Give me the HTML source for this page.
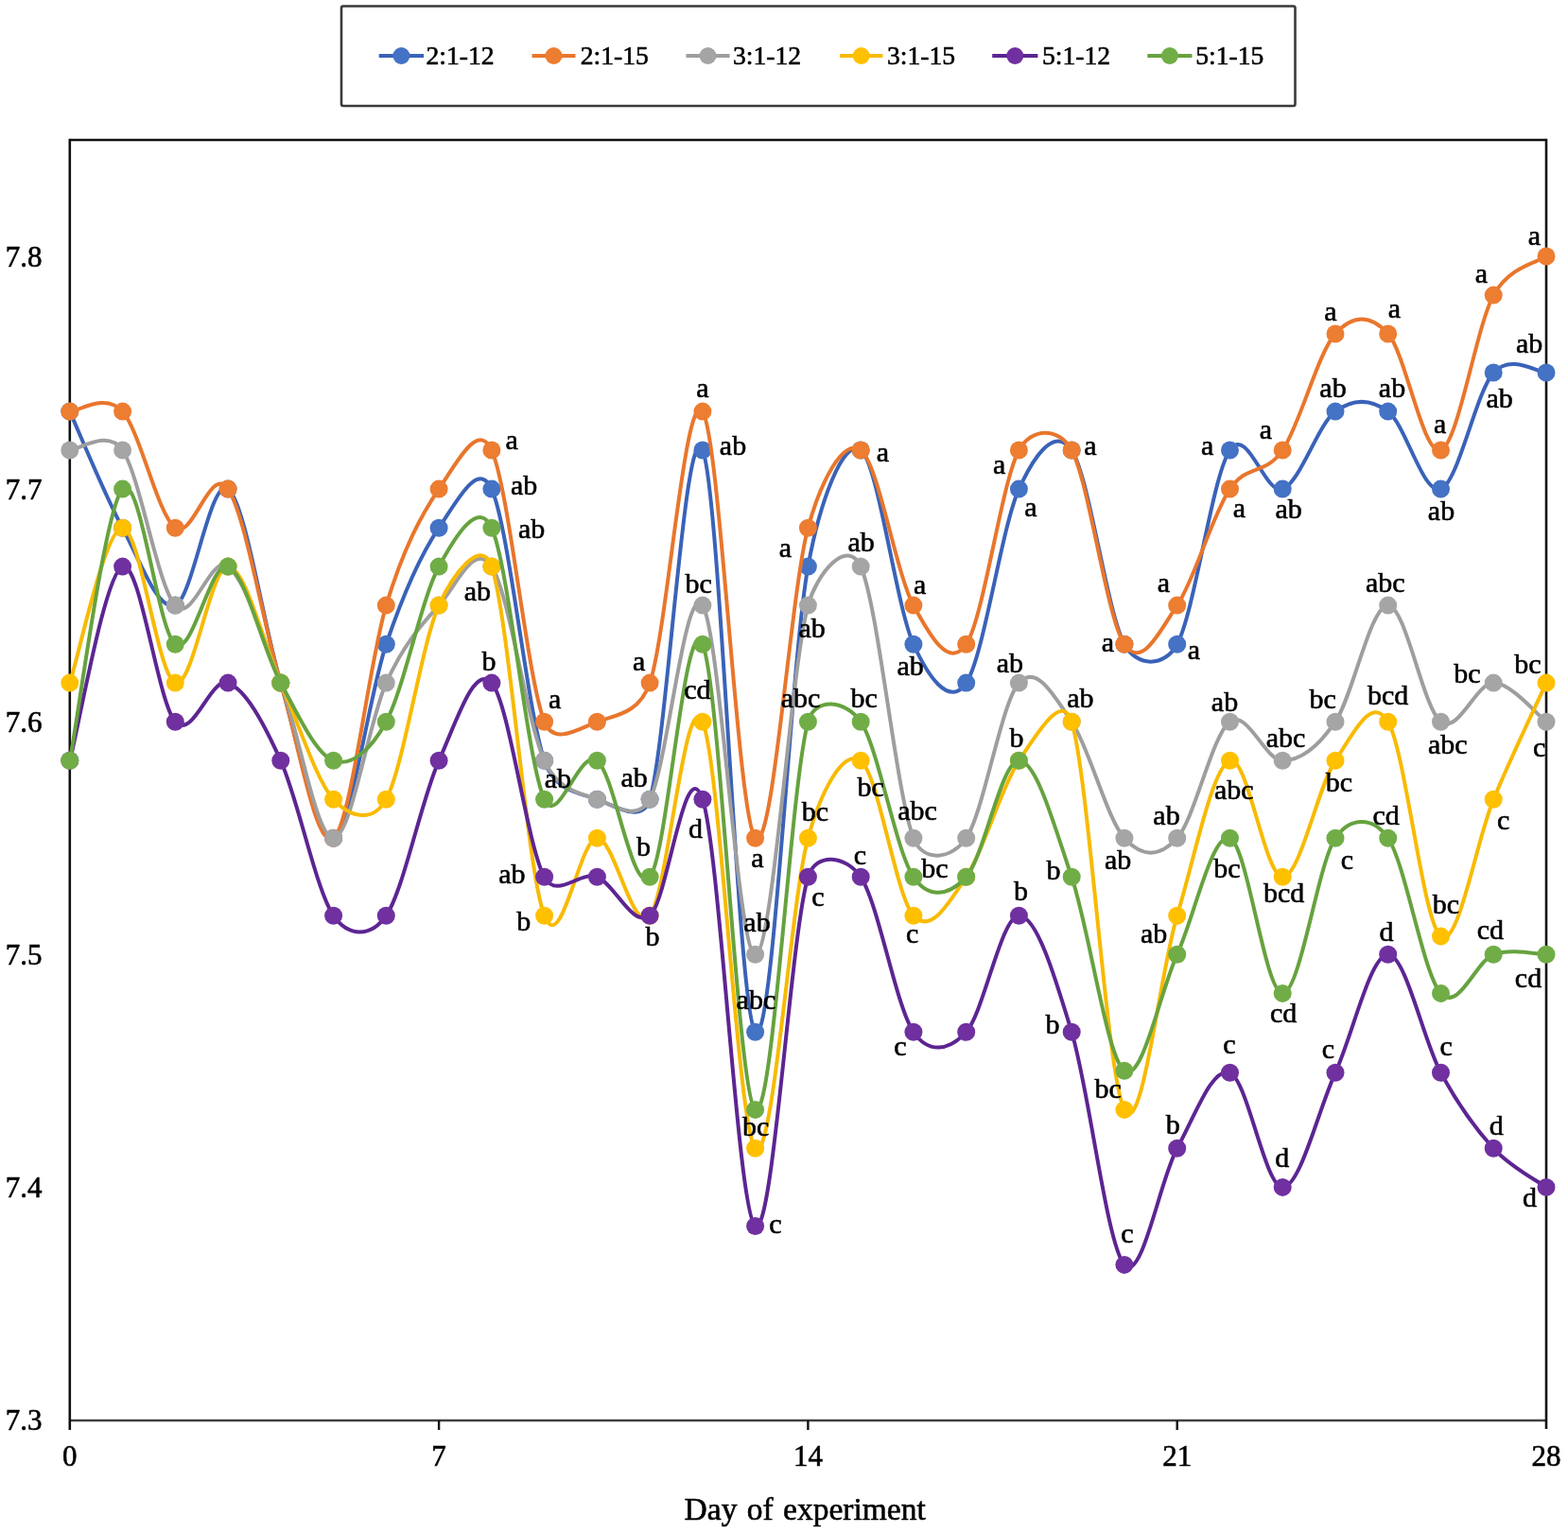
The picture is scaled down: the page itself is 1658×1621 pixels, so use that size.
<!DOCTYPE html>
<html><head><meta charset="utf-8"><title>pH chart</title><style>
html,body{margin:0;padding:0;background:#fff;overflow:hidden;}
svg{display:block;}
text{font-family:"Liberation Serif","Times New Roman",serif;fill:#000;stroke:#000;stroke-width:0.6px;}
</style></head><body>
<svg width="1658" height="1621" viewBox="0 0 1658 1621">
<rect x="0" y="0" width="1658" height="1621" fill="#fff"/>
<rect x="361" y="6.5" width="1008.5" height="105.5" fill="none" stroke="#3a3a3a" stroke-width="2.6" rx="2"/>
<line x1="400.7" y1="59" x2="448.0" y2="59" stroke="#3A62B8" stroke-width="4.0"/>
<circle cx="424.4" cy="59" r="9.0" fill="#4472C4"/>
<text x="450.5" y="67.6" font-size="27.6">2:1-12</text>
<line x1="562.5" y1="59" x2="608.5" y2="59" stroke="#E8762C" stroke-width="4.0"/>
<circle cx="585.5" cy="59" r="9.0" fill="#ED7D31"/>
<text x="613.8" y="67.6" font-size="27.6">2:1-15</text>
<line x1="725.5" y1="59" x2="771.6" y2="59" stroke="#9E9E9E" stroke-width="4.0"/>
<circle cx="748.5" cy="59" r="9.0" fill="#A5A5A5"/>
<text x="775.0" y="67.6" font-size="27.6">3:1-12</text>
<line x1="888.0" y1="59" x2="933.4" y2="59" stroke="#F8BA00" stroke-width="4.0"/>
<circle cx="910.7" cy="59" r="9.0" fill="#FFC000"/>
<text x="938.0" y="67.6" font-size="27.6">3:1-15</text>
<line x1="1049.2" y1="59" x2="1097.4" y2="59" stroke="#5C2592" stroke-width="4.0"/>
<circle cx="1073.3" cy="59" r="9.0" fill="#7030A0"/>
<text x="1102.0" y="67.6" font-size="27.6">5:1-12</text>
<line x1="1213.3" y1="59" x2="1260.5" y2="59" stroke="#66A23F" stroke-width="4.0"/>
<circle cx="1236.9" cy="59" r="9.0" fill="#70AD47"/>
<text x="1264.2" y="67.6" font-size="27.6">5:1-15</text>
<g stroke-linecap="butt">
<line x1="73.8" y1="148" x2="1635" y2="148" stroke="#111" stroke-width="2.6"/>
<line x1="73.8" y1="1502" x2="1635" y2="1502" stroke="#404040" stroke-width="2.6"/>
<line x1="73.8" y1="146.7" x2="73.8" y2="1512" stroke="#111" stroke-width="2.6"/>
<line x1="1635" y1="146.7" x2="1635" y2="1511" stroke="#111" stroke-width="2.6"/>
<line x1="464.1" y1="1502" x2="464.1" y2="1512" stroke="#111" stroke-width="2.4"/>
<line x1="854.4" y1="1502" x2="854.4" y2="1512" stroke="#111" stroke-width="2.4"/>
<line x1="1244.7" y1="1502" x2="1244.7" y2="1512" stroke="#111" stroke-width="2.4"/>
</g>
<text x="44.5" y="1512.1" font-size="31" text-anchor="end">7.3</text>
<text x="44.5" y="1266.0" font-size="31" text-anchor="end">7.4</text>
<text x="44.5" y="1019.9" font-size="31" text-anchor="end">7.5</text>
<text x="44.5" y="773.8" font-size="31" text-anchor="end">7.6</text>
<text x="44.5" y="527.7" font-size="31" text-anchor="end">7.7</text>
<text x="44.5" y="281.6" font-size="31" text-anchor="end">7.8</text>
<text x="73.8" y="1550" font-size="31" text-anchor="middle">0</text>
<text x="464.1" y="1550" font-size="31" text-anchor="middle">7</text>
<text x="854.4" y="1550" font-size="31" text-anchor="middle">14</text>
<text x="1244.7" y="1550" font-size="31" text-anchor="middle">21</text>
<text x="1635.0" y="1550" font-size="31" text-anchor="middle">28</text>
<text x="723.6" y="1607" font-size="33.5" word-spacing="2">Day of experiment</text>
<path d="M73.80,435.15 C83.09,455.66 110.97,524.03 129.56,558.20 C148.14,592.37 166.73,647.00 185.31,640.15 C203.90,633.30 222.49,503.44 241.07,517.10 C259.66,530.76 278.24,660.58 296.83,722.10 C315.41,783.63 334.00,893.06 352.59,886.25 C371.17,879.44 389.76,735.92 408.34,681.25 C426.93,626.57 445.51,585.56 464.10,558.20 C482.69,530.84 505.56,485.55 519.86,517.10 C538.44,558.12 557.03,749.62 575.61,804.30 C586.74,837.02 612.79,838.34 631.37,845.15 C649.96,851.96 679.07,871.84 687.13,845.15 C705.71,783.63 724.30,434.98 742.89,476.00 C761.47,517.02 780.06,1070.74 798.64,1091.25 C817.23,1111.76 835.81,701.59 854.40,599.05 C866.45,532.59 891.57,462.30 910.16,476.00 C928.74,489.70 947.33,640.23 965.91,681.25 C980.18,712.73 1003.09,749.46 1021.67,722.10 C1040.26,694.74 1058.84,558.12 1077.43,517.10 C1091.72,485.55 1114.60,448.64 1133.19,476.00 C1151.77,503.36 1170.36,647.04 1188.94,681.25 C1202.25,705.75 1231.39,705.75 1244.70,681.25 C1263.29,647.04 1281.87,503.36 1300.46,476.00 C1319.04,448.64 1337.63,523.91 1356.21,517.10 C1374.80,510.29 1393.39,448.81 1411.97,435.15 C1430.56,421.49 1449.14,421.49 1467.73,435.15 C1486.31,448.81 1504.90,523.95 1523.49,517.10 C1542.07,510.25 1560.66,414.56 1579.24,394.05 C1597.83,373.54 1625.71,394.05 1635.00,394.05" fill="none" stroke="#3A62B8" stroke-width="4.0" stroke-linejoin="round"/>
<g fill="#4472C4"><circle cx="73.8" cy="435.1" r="9.5"/><circle cx="129.6" cy="558.2" r="9.5"/><circle cx="185.3" cy="640.1" r="9.5"/><circle cx="241.1" cy="517.1" r="9.5"/><circle cx="296.8" cy="722.1" r="9.5"/><circle cx="352.6" cy="886.2" r="9.5"/><circle cx="408.3" cy="681.2" r="9.5"/><circle cx="464.1" cy="558.2" r="9.5"/><circle cx="519.9" cy="517.1" r="9.5"/><circle cx="575.6" cy="804.3" r="9.5"/><circle cx="631.4" cy="845.2" r="9.5"/><circle cx="687.1" cy="845.2" r="9.5"/><circle cx="742.9" cy="476.0" r="9.5"/><circle cx="798.6" cy="1091.3" r="9.5"/><circle cx="854.4" cy="599.1" r="9.5"/><circle cx="910.2" cy="476.0" r="9.5"/><circle cx="965.9" cy="681.2" r="9.5"/><circle cx="1021.7" cy="722.1" r="9.5"/><circle cx="1077.4" cy="517.1" r="9.5"/><circle cx="1133.2" cy="476.0" r="9.5"/><circle cx="1188.9" cy="681.2" r="9.5"/><circle cx="1244.7" cy="681.2" r="9.5"/><circle cx="1300.5" cy="476.0" r="9.5"/><circle cx="1356.2" cy="517.1" r="9.5"/><circle cx="1412.0" cy="435.1" r="9.5"/><circle cx="1467.7" cy="435.1" r="9.5"/><circle cx="1523.5" cy="517.1" r="9.5"/><circle cx="1579.2" cy="394.0" r="9.5"/><circle cx="1635.0" cy="394.0" r="9.5"/></g>
<path d="M73.80,435.15 C83.09,435.15 110.97,414.64 129.56,435.15 C148.14,455.66 166.73,544.54 185.31,558.20 C203.90,571.86 222.49,489.78 241.07,517.10 C259.66,544.42 278.24,660.58 296.83,722.10 C315.41,783.63 334.00,899.91 352.59,886.25 C371.17,872.59 389.76,701.67 408.34,640.15 C426.93,578.62 445.51,544.46 464.10,517.10 C482.69,489.74 505.56,444.46 519.86,476.00 C538.44,517.02 557.03,715.33 575.61,763.20 C585.71,789.19 612.79,770.05 631.37,763.20 C649.96,756.35 675.98,754.89 687.13,722.10 C705.71,667.43 724.30,407.79 742.89,435.15 C761.47,462.51 780.06,865.74 798.64,886.25 C817.23,906.76 835.81,626.57 854.40,558.20 C867.43,510.28 891.57,462.34 910.16,476.00 C928.74,489.66 947.33,605.94 965.91,640.15 C982.45,670.58 1003.09,708.61 1021.67,681.25 C1040.26,653.89 1058.84,510.21 1077.43,476.00 C1090.74,451.50 1119.88,451.50 1133.19,476.00 C1151.77,510.21 1170.36,653.89 1188.94,681.25 C1207.53,708.61 1226.11,667.51 1244.70,640.15 C1263.29,612.79 1281.87,544.46 1300.46,517.10 C1319.04,489.74 1337.63,503.36 1356.21,476.00 C1374.80,448.64 1393.39,373.46 1411.97,352.95 C1430.56,332.44 1449.14,332.44 1467.73,352.95 C1486.31,373.46 1504.90,482.81 1523.49,476.00 C1542.07,469.19 1560.66,346.27 1579.24,312.10 C1595.79,281.67 1625.71,277.85 1635.00,271.00" fill="none" stroke="#E8762C" stroke-width="4.0" stroke-linejoin="round"/>
<g fill="#ED7D31"><circle cx="73.8" cy="435.1" r="9.5"/><circle cx="129.6" cy="435.1" r="9.5"/><circle cx="185.3" cy="558.2" r="9.5"/><circle cx="241.1" cy="517.1" r="9.5"/><circle cx="296.8" cy="722.1" r="9.5"/><circle cx="352.6" cy="886.2" r="9.5"/><circle cx="408.3" cy="640.1" r="9.5"/><circle cx="464.1" cy="517.1" r="9.5"/><circle cx="519.9" cy="476.0" r="9.5"/><circle cx="575.6" cy="763.2" r="9.5"/><circle cx="631.4" cy="763.2" r="9.5"/><circle cx="687.1" cy="722.1" r="9.5"/><circle cx="742.9" cy="435.1" r="9.5"/><circle cx="798.6" cy="886.2" r="9.5"/><circle cx="854.4" cy="558.2" r="9.5"/><circle cx="910.2" cy="476.0" r="9.5"/><circle cx="965.9" cy="640.1" r="9.5"/><circle cx="1021.7" cy="681.2" r="9.5"/><circle cx="1077.4" cy="476.0" r="9.5"/><circle cx="1133.2" cy="476.0" r="9.5"/><circle cx="1188.9" cy="681.2" r="9.5"/><circle cx="1244.7" cy="640.1" r="9.5"/><circle cx="1300.5" cy="517.1" r="9.5"/><circle cx="1356.2" cy="476.0" r="9.5"/><circle cx="1412.0" cy="353.0" r="9.5"/><circle cx="1467.7" cy="353.0" r="9.5"/><circle cx="1523.5" cy="476.0" r="9.5"/><circle cx="1579.2" cy="312.1" r="9.5"/><circle cx="1635.0" cy="271.0" r="9.5"/></g>
<path d="M73.80,476.00 C83.09,476.00 113.89,452.94 129.56,476.00 C148.14,503.36 166.73,619.64 185.31,640.15 C203.90,660.66 222.49,585.39 241.07,599.05 C259.66,612.71 278.24,674.23 296.83,722.10 C315.41,769.97 334.00,886.25 352.59,886.25 C371.17,886.25 389.76,763.12 408.34,722.10 C426.93,681.08 445.51,660.66 464.10,640.15 C482.69,619.64 501.27,571.69 519.86,599.05 C538.44,626.41 557.03,763.28 575.61,804.30 C589.88,835.78 612.79,838.34 631.37,845.15 C649.96,851.96 673.81,869.64 687.13,845.15 C705.71,810.98 724.30,612.79 742.89,640.15 C761.47,667.51 780.06,1009.30 798.64,1009.30 C817.23,1009.30 835.81,708.52 854.40,640.15 C863.48,606.73 895.86,567.51 910.16,599.05 C928.74,640.07 947.33,838.38 965.91,886.25 C976.01,912.24 1006.01,909.31 1021.67,886.25 C1040.26,858.89 1058.84,742.61 1077.43,722.10 C1096.01,701.59 1114.60,735.84 1133.19,763.20 C1151.77,790.56 1170.36,865.74 1188.94,886.25 C1207.53,906.76 1226.11,906.76 1244.70,886.25 C1263.29,865.74 1281.87,776.86 1300.46,763.20 C1319.04,749.54 1337.63,804.30 1356.21,804.30 C1374.80,804.30 1393.39,790.56 1411.97,763.20 C1430.56,735.84 1449.14,640.15 1467.73,640.15 C1486.31,640.15 1504.90,749.54 1523.49,763.20 C1542.07,776.86 1560.66,722.10 1579.24,722.10 C1597.83,722.10 1625.71,756.35 1635.00,763.20" fill="none" stroke="#9E9E9E" stroke-width="4.0" stroke-linejoin="round"/>
<g fill="#A5A5A5"><circle cx="73.8" cy="476.0" r="9.5"/><circle cx="129.6" cy="476.0" r="9.5"/><circle cx="185.3" cy="640.1" r="9.5"/><circle cx="241.1" cy="599.1" r="9.5"/><circle cx="296.8" cy="722.1" r="9.5"/><circle cx="352.6" cy="886.2" r="9.5"/><circle cx="408.3" cy="722.1" r="9.5"/><circle cx="464.1" cy="640.1" r="9.5"/><circle cx="519.9" cy="599.1" r="9.5"/><circle cx="575.6" cy="804.3" r="9.5"/><circle cx="631.4" cy="845.2" r="9.5"/><circle cx="687.1" cy="845.2" r="9.5"/><circle cx="742.9" cy="640.1" r="9.5"/><circle cx="798.6" cy="1009.3" r="9.5"/><circle cx="854.4" cy="640.1" r="9.5"/><circle cx="910.2" cy="599.1" r="9.5"/><circle cx="965.9" cy="886.2" r="9.5"/><circle cx="1021.7" cy="886.2" r="9.5"/><circle cx="1077.4" cy="722.1" r="9.5"/><circle cx="1133.2" cy="763.2" r="9.5"/><circle cx="1188.9" cy="886.2" r="9.5"/><circle cx="1244.7" cy="886.2" r="9.5"/><circle cx="1300.5" cy="763.2" r="9.5"/><circle cx="1356.2" cy="804.3" r="9.5"/><circle cx="1412.0" cy="763.2" r="9.5"/><circle cx="1467.7" cy="640.1" r="9.5"/><circle cx="1523.5" cy="763.2" r="9.5"/><circle cx="1579.2" cy="722.1" r="9.5"/><circle cx="1635.0" cy="763.2" r="9.5"/></g>
<path d="M73.80,722.10 C83.09,694.78 110.97,558.20 129.56,558.20 C148.14,558.20 166.73,715.29 185.31,722.10 C203.90,728.91 222.49,599.05 241.07,599.05 C259.66,599.05 278.24,681.08 296.83,722.10 C315.41,763.12 334.00,824.64 352.59,845.15 C371.17,865.66 395.02,869.64 408.34,845.15 C426.93,810.98 445.51,681.17 464.10,640.15 C478.39,608.60 508.71,566.26 519.86,599.05 C538.44,653.73 557.03,920.33 575.61,968.20 C593.55,1014.40 612.79,886.25 631.37,886.25 C649.96,886.25 668.54,988.71 687.13,968.20 C705.71,947.69 724.30,722.18 742.89,763.20 C761.47,804.22 780.06,1193.79 798.64,1214.30 C817.23,1234.81 835.81,954.58 854.40,886.25 C867.41,838.43 891.57,790.64 910.16,804.30 C928.74,817.96 947.33,947.69 965.91,968.20 C984.50,988.71 1003.09,954.67 1021.67,927.35 C1040.26,900.03 1058.84,831.66 1077.43,804.30 C1096.01,776.94 1123.17,730.05 1133.19,763.20 C1151.77,824.73 1170.36,1139.28 1188.94,1173.45 C1207.53,1207.62 1226.11,1029.73 1244.70,968.20 C1263.29,906.68 1281.87,811.11 1300.46,804.30 C1319.04,797.49 1337.63,927.35 1356.21,927.35 C1374.80,927.35 1393.39,831.66 1411.97,804.30 C1430.56,776.94 1449.91,733.50 1467.73,763.20 C1486.31,794.17 1504.90,976.45 1523.49,990.10 C1542.07,1003.76 1560.66,889.82 1579.24,845.15 C1597.83,800.48 1625.71,742.61 1635.00,722.10" fill="none" stroke="#F8BA00" stroke-width="4.0" stroke-linejoin="round"/>
<g fill="#FFC000"><circle cx="73.8" cy="722.1" r="9.5"/><circle cx="129.6" cy="558.2" r="9.5"/><circle cx="185.3" cy="722.1" r="9.5"/><circle cx="241.1" cy="599.1" r="9.5"/><circle cx="296.8" cy="722.1" r="9.5"/><circle cx="352.6" cy="845.2" r="9.5"/><circle cx="408.3" cy="845.2" r="9.5"/><circle cx="464.1" cy="640.1" r="9.5"/><circle cx="519.9" cy="599.1" r="9.5"/><circle cx="575.6" cy="968.2" r="9.5"/><circle cx="631.4" cy="886.2" r="9.5"/><circle cx="687.1" cy="968.2" r="9.5"/><circle cx="742.9" cy="763.2" r="9.5"/><circle cx="798.6" cy="1214.3" r="9.5"/><circle cx="854.4" cy="886.2" r="9.5"/><circle cx="910.2" cy="804.3" r="9.5"/><circle cx="965.9" cy="968.2" r="9.5"/><circle cx="1021.7" cy="927.3" r="9.5"/><circle cx="1077.4" cy="804.3" r="9.5"/><circle cx="1133.2" cy="763.2" r="9.5"/><circle cx="1188.9" cy="1173.4" r="9.5"/><circle cx="1244.7" cy="968.2" r="9.5"/><circle cx="1300.5" cy="804.3" r="9.5"/><circle cx="1356.2" cy="927.3" r="9.5"/><circle cx="1412.0" cy="804.3" r="9.5"/><circle cx="1467.7" cy="763.2" r="9.5"/><circle cx="1523.5" cy="990.1" r="9.5"/><circle cx="1579.2" cy="845.2" r="9.5"/><circle cx="1635.0" cy="722.1" r="9.5"/></g>
<path d="M73.80,804.30 C83.09,770.09 110.97,605.90 129.56,599.05 C148.14,592.20 166.73,742.69 185.31,763.20 C203.90,783.71 222.49,715.25 241.07,722.10 C259.66,728.95 278.24,763.28 296.83,804.30 C315.41,845.32 334.00,940.88 352.59,968.20 C368.27,991.25 392.66,991.25 408.34,968.20 C426.93,940.88 445.51,845.32 464.10,804.30 C482.69,763.28 501.27,701.59 519.86,722.10 C538.44,742.61 557.03,893.14 575.61,927.35 C588.92,951.85 612.79,920.54 631.37,927.35 C649.96,934.16 668.54,981.90 687.13,968.20 C705.71,954.50 724.30,790.44 742.89,845.15 C761.47,899.87 780.06,1282.80 798.64,1296.50 C817.23,1310.20 835.81,988.87 854.40,927.35 C862.46,900.66 894.47,904.30 910.16,927.35 C928.74,954.67 947.33,1063.93 965.91,1091.25 C981.60,1114.30 1003.09,1111.76 1021.67,1091.25 C1040.26,1070.74 1058.84,968.20 1077.43,968.20 C1096.01,968.20 1114.60,1029.73 1133.19,1091.25 C1151.77,1152.78 1170.36,1316.84 1188.94,1337.35 C1207.53,1357.86 1226.11,1248.14 1244.70,1214.30 C1263.29,1180.46 1281.87,1127.47 1300.46,1134.32 C1319.04,1141.17 1337.63,1255.40 1356.21,1255.40 C1374.80,1255.40 1393.39,1175.34 1411.97,1134.32 C1430.56,1093.30 1449.14,1009.30 1467.73,1009.30 C1486.31,1009.30 1504.90,1100.15 1523.49,1134.32 C1542.07,1168.49 1560.66,1194.12 1579.24,1214.30 C1597.83,1234.48 1625.71,1248.55 1635.00,1255.40" fill="none" stroke="#5C2592" stroke-width="4.0" stroke-linejoin="round"/>
<g fill="#7030A0"><circle cx="73.8" cy="804.3" r="9.5"/><circle cx="129.6" cy="599.1" r="9.5"/><circle cx="185.3" cy="763.2" r="9.5"/><circle cx="241.1" cy="722.1" r="9.5"/><circle cx="296.8" cy="804.3" r="9.5"/><circle cx="352.6" cy="968.2" r="9.5"/><circle cx="408.3" cy="968.2" r="9.5"/><circle cx="464.1" cy="804.3" r="9.5"/><circle cx="519.9" cy="722.1" r="9.5"/><circle cx="575.6" cy="927.3" r="9.5"/><circle cx="631.4" cy="927.3" r="9.5"/><circle cx="687.1" cy="968.2" r="9.5"/><circle cx="742.9" cy="845.2" r="9.5"/><circle cx="798.6" cy="1296.5" r="9.5"/><circle cx="854.4" cy="927.3" r="9.5"/><circle cx="910.2" cy="927.3" r="9.5"/><circle cx="965.9" cy="1091.3" r="9.5"/><circle cx="1021.7" cy="1091.3" r="9.5"/><circle cx="1077.4" cy="968.2" r="9.5"/><circle cx="1133.2" cy="1091.3" r="9.5"/><circle cx="1188.9" cy="1337.4" r="9.5"/><circle cx="1244.7" cy="1214.3" r="9.5"/><circle cx="1300.5" cy="1134.3" r="9.5"/><circle cx="1356.2" cy="1255.4" r="9.5"/><circle cx="1412.0" cy="1134.3" r="9.5"/><circle cx="1467.7" cy="1009.3" r="9.5"/><circle cx="1523.5" cy="1134.3" r="9.5"/><circle cx="1579.2" cy="1214.3" r="9.5"/><circle cx="1635.0" cy="1255.4" r="9.5"/></g>
<path d="M73.80,804.30 C83.09,756.43 110.97,537.61 129.56,517.10 C148.14,496.59 166.73,667.59 185.31,681.25 C203.90,694.91 222.49,592.24 241.07,599.05 C259.66,605.86 278.24,687.89 296.83,722.10 C315.41,756.31 334.00,797.45 352.59,804.30 C371.17,811.15 391.81,793.63 408.34,763.20 C426.93,728.99 445.51,633.22 464.10,599.05 C480.61,568.69 505.59,526.72 519.86,558.20 C538.44,599.22 557.03,804.13 575.61,845.15 C589.88,876.63 612.79,790.60 631.37,804.30 C649.96,818.00 668.54,947.86 687.13,927.35 C705.71,906.84 724.30,640.23 742.89,681.25 C761.47,722.27 780.06,1159.79 798.64,1173.45 C817.23,1187.11 835.81,831.57 854.40,763.20 C861.71,736.30 894.49,740.14 910.16,763.20 C928.74,790.56 947.33,899.99 965.91,927.35 C981.58,950.41 1003.09,947.86 1021.67,927.35 C1040.26,906.84 1058.84,804.30 1077.43,804.30 C1096.01,804.30 1114.60,872.67 1133.19,927.35 C1151.77,982.02 1170.36,1118.69 1188.94,1132.35 C1207.53,1146.01 1226.11,1050.32 1244.70,1009.30 C1263.29,968.28 1281.87,879.40 1300.46,886.25 C1319.04,893.10 1337.63,1050.40 1356.21,1050.40 C1374.80,1050.40 1393.39,913.61 1411.97,886.25 C1427.64,863.19 1452.06,863.19 1467.73,886.25 C1486.31,913.61 1504.90,1029.89 1523.49,1050.40 C1542.07,1070.91 1560.66,1016.15 1579.24,1009.30 C1597.83,1002.45 1625.71,1009.30 1635.00,1009.30" fill="none" stroke="#66A23F" stroke-width="4.0" stroke-linejoin="round"/>
<g fill="#70AD47"><circle cx="73.8" cy="804.3" r="9.5"/><circle cx="129.6" cy="517.1" r="9.5"/><circle cx="185.3" cy="681.2" r="9.5"/><circle cx="241.1" cy="599.1" r="9.5"/><circle cx="296.8" cy="722.1" r="9.5"/><circle cx="352.6" cy="804.3" r="9.5"/><circle cx="408.3" cy="763.2" r="9.5"/><circle cx="464.1" cy="599.1" r="9.5"/><circle cx="519.9" cy="558.2" r="9.5"/><circle cx="575.6" cy="845.2" r="9.5"/><circle cx="631.4" cy="804.3" r="9.5"/><circle cx="687.1" cy="927.3" r="9.5"/><circle cx="742.9" cy="681.2" r="9.5"/><circle cx="798.6" cy="1173.4" r="9.5"/><circle cx="854.4" cy="763.2" r="9.5"/><circle cx="910.2" cy="763.2" r="9.5"/><circle cx="965.9" cy="927.3" r="9.5"/><circle cx="1021.7" cy="927.3" r="9.5"/><circle cx="1077.4" cy="804.3" r="9.5"/><circle cx="1133.2" cy="927.3" r="9.5"/><circle cx="1188.9" cy="1132.3" r="9.5"/><circle cx="1244.7" cy="1009.3" r="9.5"/><circle cx="1300.5" cy="886.2" r="9.5"/><circle cx="1356.2" cy="1050.4" r="9.5"/><circle cx="1412.0" cy="886.2" r="9.5"/><circle cx="1467.7" cy="886.2" r="9.5"/><circle cx="1523.5" cy="1050.4" r="9.5"/><circle cx="1579.2" cy="1009.3" r="9.5"/><circle cx="1635.0" cy="1009.3" r="9.5"/></g>
<g font-size="30" text-anchor="middle">
<text x="541.2" y="475.0">a</text>
<text x="554.1" y="523.1">ab</text>
<text x="562.2" y="568.8">ab</text>
<text x="504.8" y="635.4">ab</text>
<text x="517.0" y="709.4">b</text>
<text x="586.6" y="748.9">a</text>
<text x="675.6" y="709.4">a</text>
<text x="742.9" y="419.5">a</text>
<text x="775.0" y="480.7">ab</text>
<text x="738.6" y="626.8">bc</text>
<text x="737.3" y="739.0">cd</text>
<text x="830.3" y="588.5">a</text>
<text x="933.3" y="487.9">a</text>
<text x="910.6" y="583.4">ab</text>
<text x="858.6" y="674.2">ab</text>
<text x="846.6" y="747.7">abc</text>
<text x="913.6" y="748.2">bc</text>
<text x="972.7" y="628.0">a</text>
<text x="962.6" y="714.4">ab</text>
<text x="1056.7" y="501.4">a</text>
<text x="1090.0" y="545.8">a</text>
<text x="1152.8" y="480.5">a</text>
<text x="1067.8" y="711.2">ab</text>
<text x="1142.4" y="748.2">ab</text>
<text x="1074.9" y="790.1">b</text>
<text x="1171.4" y="689.0">a</text>
<text x="1230.4" y="625.8">a</text>
<text x="1262.5" y="696.8">a</text>
<text x="1276.7" y="480.7">a</text>
<text x="1310.3" y="546.8">a</text>
<text x="1338.4" y="463.9">a</text>
<text x="1362.6" y="547.8">ab</text>
<text x="1409.5" y="420.2">ab</text>
<text x="1472.0" y="420.2">ab</text>
<text x="1464.7" y="625.8">abc</text>
<text x="1406.8" y="339.1">a</text>
<text x="1474.3" y="335.9">a</text>
<text x="1522.7" y="457.6">a</text>
<text x="1524.0" y="549.8">ab</text>
<text x="1566.3" y="299.2">a</text>
<text x="1585.6" y="431.3">ab</text>
<text x="1622.3" y="259.4">a</text>
<text x="1617.1" y="372.6">ab</text>
<text x="1295.0" y="752.1">ab</text>
<text x="1359.6" y="789.6">abc</text>
<text x="1398.6" y="749.1">bc</text>
<text x="1467.7" y="745.1">bcd</text>
<text x="1304.8" y="844.8">abc</text>
<text x="1415.9" y="836.9">bc</text>
<text x="1233.5" y="872.0">ab</text>
<text x="1297.4" y="927.8">bc</text>
<text x="1357.6" y="954.4">bcd</text>
<text x="1424.3" y="918.9">c</text>
<text x="1465.7" y="871.5">cd</text>
<text x="1220.1" y="997.0">ab</text>
<text x="1466.0" y="995.2">d</text>
<text x="1530.8" y="797.0">abc</text>
<text x="1551.5" y="721.7">bc</text>
<text x="1615.3" y="711.9">bc</text>
<text x="1627.7" y="800.2">c</text>
<text x="1589.6" y="876.8">c</text>
<text x="1528.9" y="966.2">bc</text>
<text x="1575.8" y="993.3">cd</text>
<text x="1616.0" y="1044.0">cd</text>
<text x="1171.6" y="1160.9">bc</text>
<text x="1357.1" y="1080.9">cd</text>
<text x="1299.9" y="1113.5">c</text>
<text x="1404.5" y="1119.4">c</text>
<text x="1240.2" y="1199.4">b</text>
<text x="1355.7" y="1233.9">d</text>
<text x="1191.8" y="1313.9">c</text>
<text x="1529.2" y="1115.5">c</text>
<text x="1582.2" y="1200.0">d</text>
<text x="1617.4" y="1276.2">d</text>
<text x="589.9" y="832.9">ab</text>
<text x="670.7" y="831.7">ab</text>
<text x="680.6" y="905.4">b</text>
<text x="735.4" y="885.6">d</text>
<text x="541.4" y="934.0">ab</text>
<text x="553.8" y="984.3">b</text>
<text x="690.0" y="1000.1">b</text>
<text x="801.0" y="917.2">a</text>
<text x="800.5" y="985.3">ab</text>
<text x="799.4" y="1067.0">abc</text>
<text x="799.2" y="1200.7">bc</text>
<text x="819.9" y="1304.4">c</text>
<text x="862.0" y="868.1">bc</text>
<text x="920.7" y="841.5">bc</text>
<text x="970.0" y="867.1">abc</text>
<text x="864.9" y="957.9">c</text>
<text x="909.3" y="913.5">c</text>
<text x="988.3" y="928.3">bc</text>
<text x="964.6" y="997.4">c</text>
<text x="951.8" y="1115.9">c</text>
<text x="1114.1" y="930.3">b</text>
<text x="1079.6" y="952.0">b</text>
<text x="1113.1" y="1093.2">b</text>
<text x="1182.2" y="919.0">ab</text>
</g>
</svg>
</body></html>
